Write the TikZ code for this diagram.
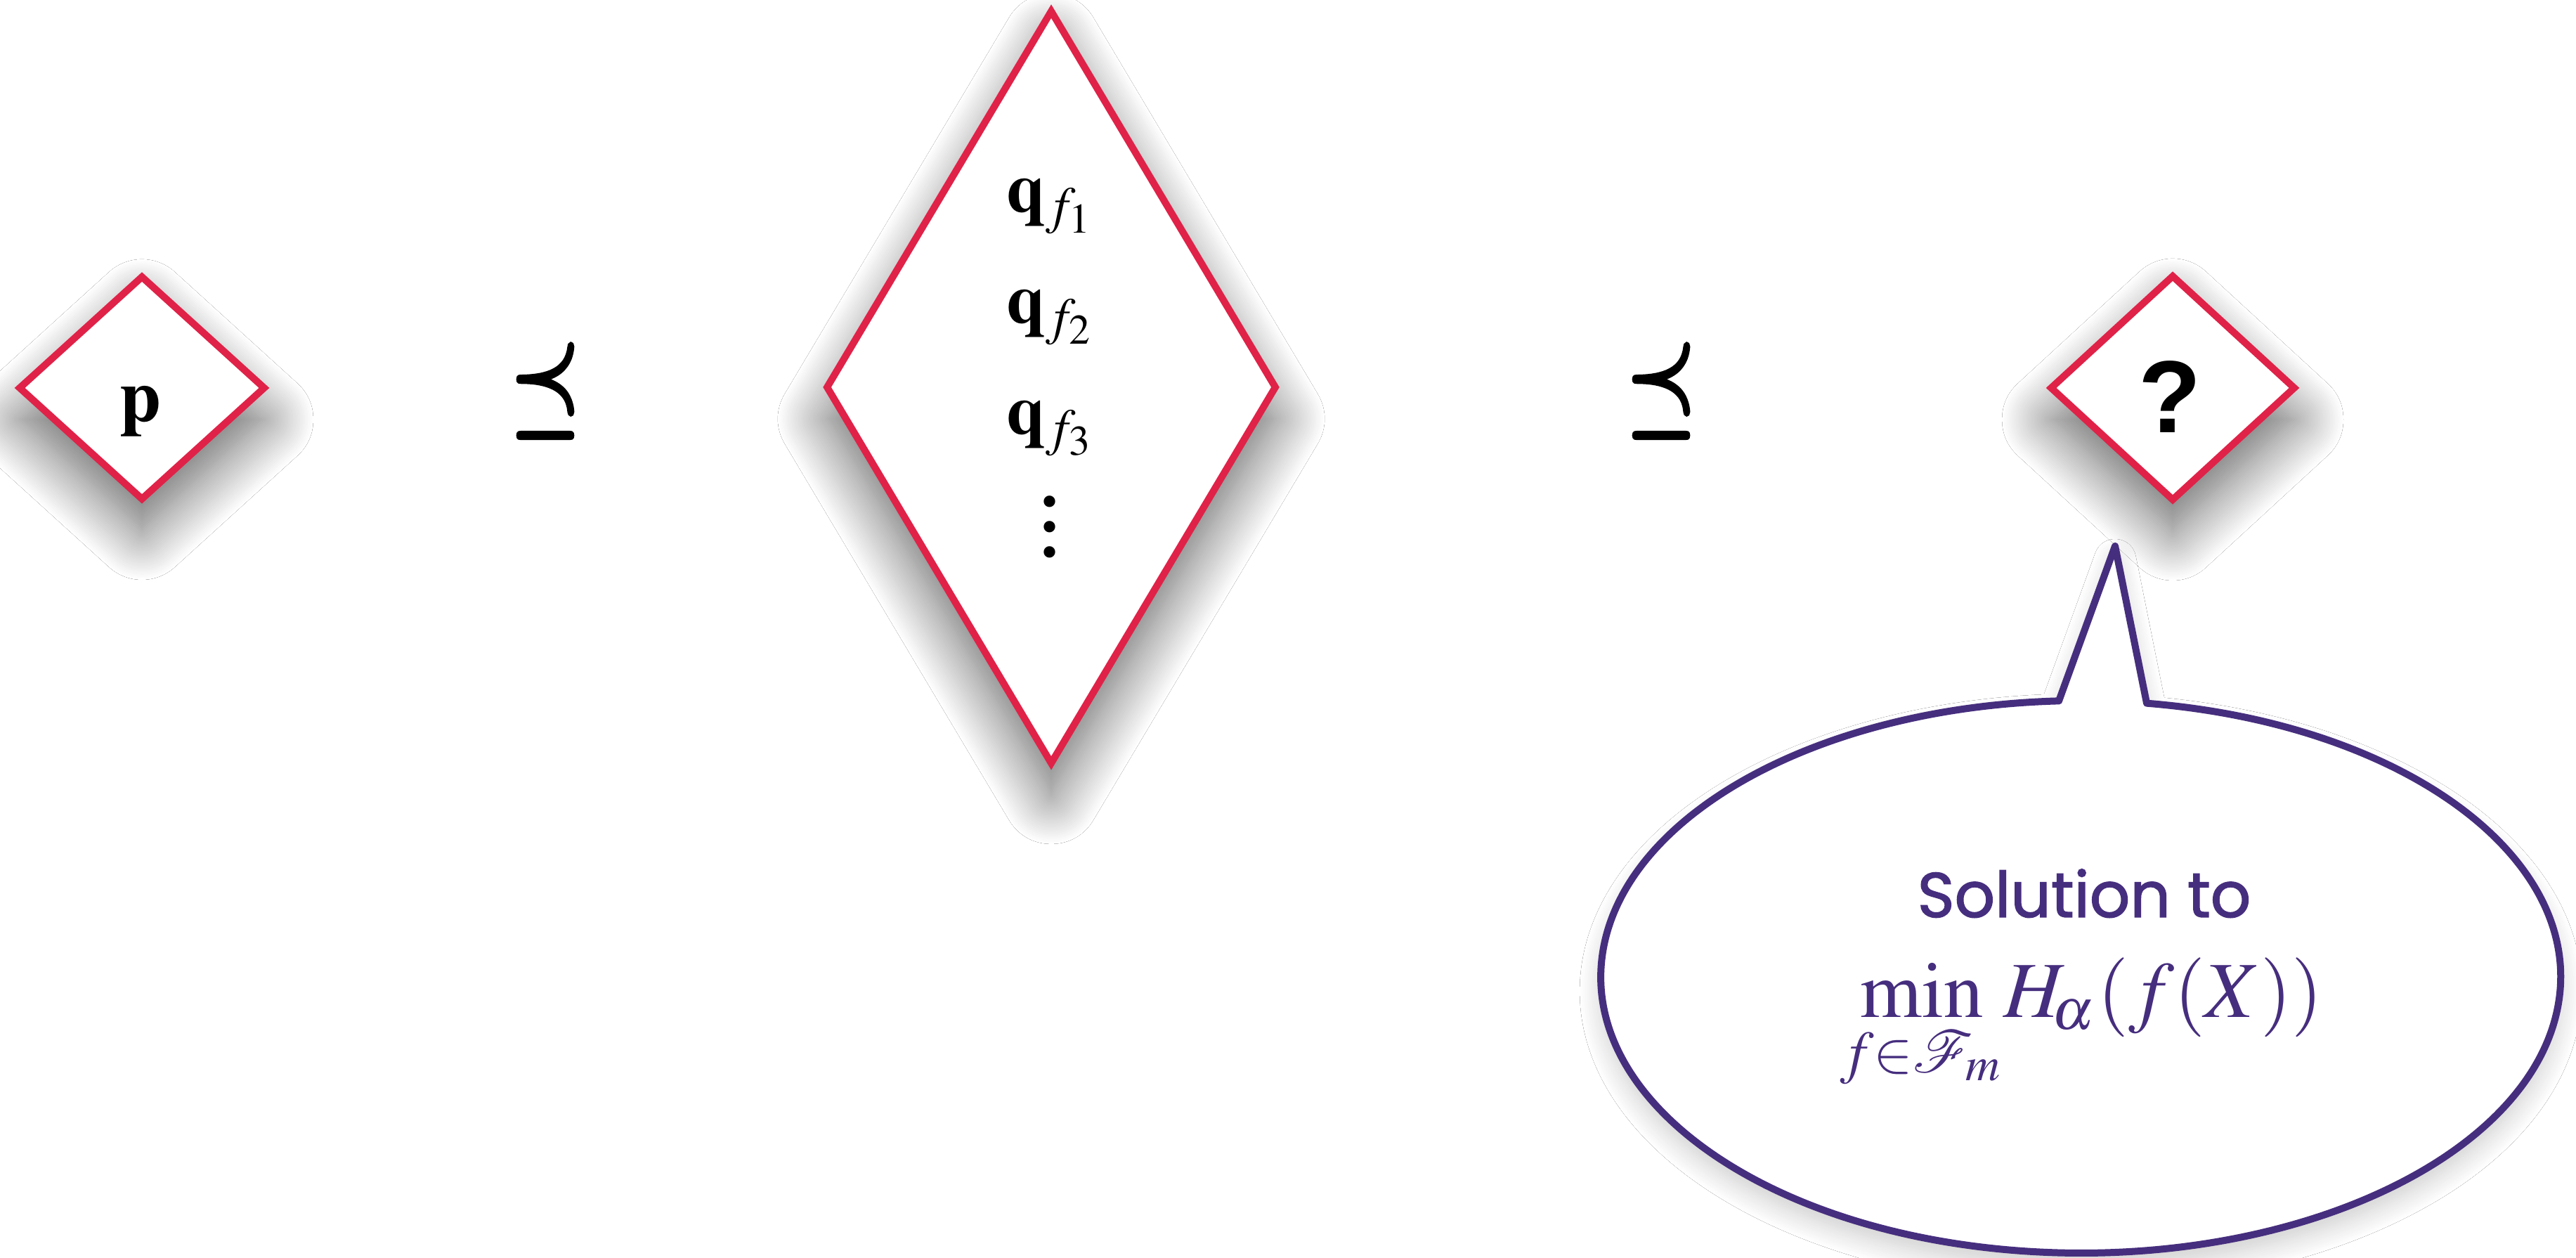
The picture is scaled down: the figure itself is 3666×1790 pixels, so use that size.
\documentclass[tikz,border=0pt]{standalone}
\usepackage{mathptmx}
\usepackage[no-math]{fontspec}
\setmainfont{Liberation Serif}
\newfontfamily\sansb{Liberation Sans}
\newfontfamily\chalk[FakeBold=1.6]{Poppins}
\usetikzlibrary{shapes.geometric,shadows.blur}
\definecolor{diared}{RGB}{224,34,72}
\definecolor{bubpurple}{RGB}{70,46,126}
\newcommand{\thickrel}[1]{\special{pdf:literal direct 2 Tr 0.55 w}#1\special{pdf:literal direct 0 Tr}}
\tikzset{
  dia/.style={diamond, draw=diared, line width=1pt, fill=white, inner sep=0pt, aspect=1,
    blur shadow={shadow xshift=0pt, shadow yshift=-4.5pt, shadow blur radius=7pt,
      shadow blur steps=30, shadow opacity=60}},
  bubble/.style={draw=bubpurple, line width=1pt, fill=white, line join=round,
    blur shadow={shadow xshift=0pt, shadow yshift=-2pt, shadow blur radius=3pt,
      shadow blur steps=20, shadow opacity=20}},
  rel/.style={inner sep=0pt, font=\fontsize{15}{18}\selectfont},
  qlabel/.style={anchor=base, inner sep=0pt, font=\fontsize{10}{12}\selectfont},
}
\begin{document}
\begin{tikzpicture}[x=0.1pt,y=0.1pt]
\fill[white] (0,0) rectangle (3666,1790);
\useasboundingbox (0,0) rectangle (3666,1790);

% diamonds
\node[dia, minimum width=35.2pt, minimum height=32pt] (dp) at (202,1238) {};
\node[dia, minimum width=64.2pt, minimum height=107.4pt] (dq) at (1496,1239) {};
\node[dia, minimum width=35pt, minimum height=32.2pt] (dx) at (3092,1238) {};

% texts in diamonds
\node[anchor=base, inner sep=0pt] (ptext) at (200,1190) {\fontsize{10.6}{12}\selectfont$\mathbf{p}$};
\node[qlabel] (q1) at (1497,1488) {$\mathbf{q}_{f_1}$};
\node[qlabel] (q2) at (1497,1330) {$\mathbf{q}_{f_2}$};
\node[qlabel] (q3) at (1497,1172) {$\mathbf{q}_{f_3}$};
\node[inner sep=0pt, align=center, font=\fontsize{10}{3.6}\selectfont\bfseries] (qdots) at (1494,1040) {.\\.\\.};
\node[inner sep=0pt] (qmark) at (3088,1225) {\sansb\bfseries\fontsize{14.6}{16}\selectfont ?};

% relations
\node[rel] (le1) at (776,1234) {\scalebox{0.85}[1.15]{\thickrel{$\preceq$}}};
\node[rel] (le2) at (2364,1234) {\scalebox{0.85}[1.15]{\thickrel{$\preceq$}}};

% speech bubble
\coordinate (tl) at (2930,792.6);
\coordinate (tip) at (3010,1013);
\coordinate (tr) at (3055,789.3);
\path[bubble] (tl) -- (tip) -- (tr)
  arc[start angle=82.1, end angle=-267.4, x radius=683, y radius=393] -- cycle;

\node[anchor=base, inner sep=0pt, text=bubpurple] (sol) at (2966,485)
  {\chalk\fontsize{9}{11}\selectfont Solution to};
\node[anchor=base, inner sep=0pt, text=bubpurple] (minexpr) at (2962,342)
  {\fontsize{11.3}{14}\selectfont$\displaystyle\min_{f\in\mathcal{F}_m}\!H_{\!\alpha}(f(X))$};
\end{tikzpicture}
\end{document}
